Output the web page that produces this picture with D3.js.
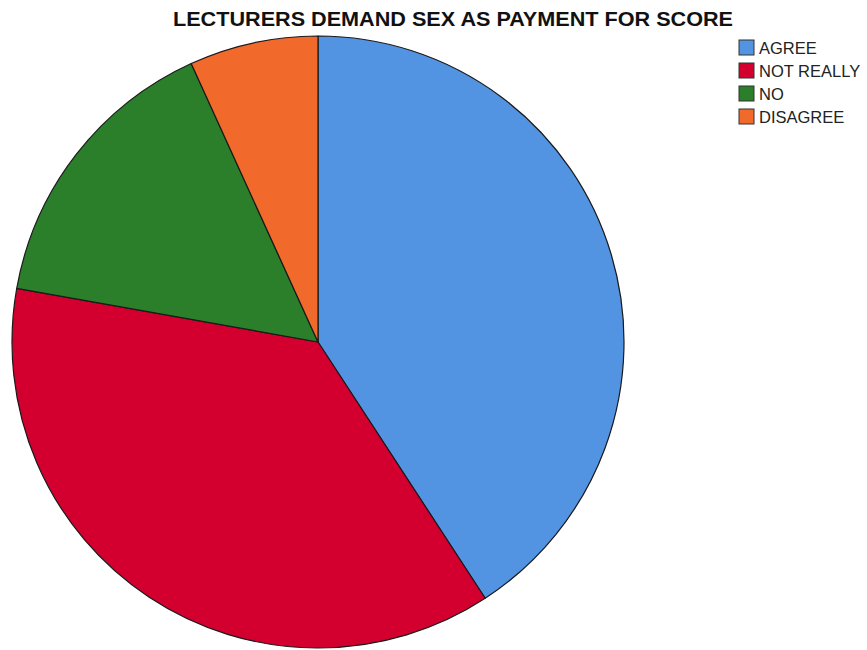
<!DOCTYPE html>
<html>
<head>
<meta charset="utf-8">
<script src="https://cdn.jsdelivr.net/npm/d3@7"></script>
<style>
  html, body { margin: 0; padding: 0; background: #fff; }
  svg { display: block; }
</style>
</head>
<body>
<svg id="chart" width="867" height="650"></svg>
<script>
// Response categories and their shares (percent of respondents)
const categories = ["AGREE", "NOT REALLY", "NO", "DISAGREE"];
const percentages = [40.8, 37.0, 15.4, 6.8];
const colors = ["#5294e2", "#d3002f", "#2b7f2b", "#f26a2b"];
const title = "LECTURERS DEMAND SEX AS PAYMENT FOR SCORE";

const svg = d3.select("#chart");
const cx = 318, cy = 342, radius = 306;

const data = categories.map((c, i) => ({ category: c, value: percentages[i], color: colors[i] }));

const pie = d3.pie().value(d => d.value).sort(null);
const arc = d3.arc().innerRadius(0).outerRadius(radius);

const g = svg.append("g").attr("transform", `translate(${cx},${cy})`);
g.selectAll("path")
  .data(pie(data))
  .join("path")
  .attr("d", arc)
  .attr("fill", d => d.data.color)
  .attr("stroke", "#1a1a1a")
  .attr("stroke-width", 1.2)
  .attr("stroke-linejoin", "round");

// Title
svg.append("text")
  .attr("x", 173)
  .attr("y", 26)
  .attr("font-family", "Liberation Sans, Arial, sans-serif")
  .attr("font-weight", "bold")
  .attr("font-size", 20)
  .attr("textLength", 560)
  .attr("lengthAdjust", "spacingAndGlyphs")
  .attr("fill", "#111")
  .text(title);

// Legend
const legend = svg.append("g").attr("transform", "translate(739,40)");
const rows = legend.selectAll("g")
  .data(data)
  .join("g")
  .attr("transform", (d, i) => `translate(0,${i * 23})`);
rows.append("rect")
  .attr("width", 15)
  .attr("height", 15)
  .attr("fill", d => d.color)
  .attr("stroke", "#333")
  .attr("stroke-width", 1);
rows.append("text")
  .attr("x", 20)
  .attr("y", 14)
  .attr("font-family", "Liberation Sans, Arial, sans-serif")
  .attr("font-size", 16.5)
  .attr("fill", "#222")
  .text(d => d.category);
</script>
</body>
</html>
